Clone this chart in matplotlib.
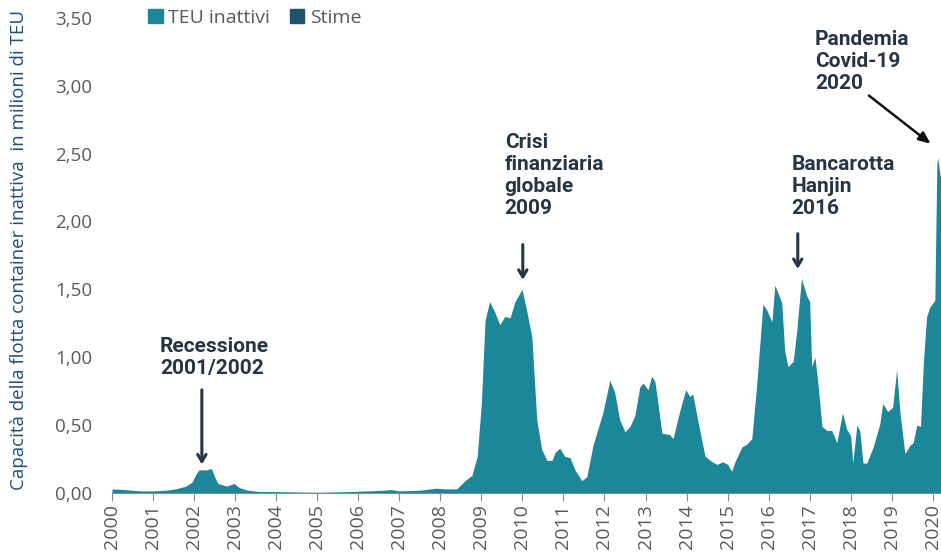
import matplotlib
matplotlib.use("Agg")
import matplotlib.pyplot as plt
from matplotlib.patches import Patch

plt.rcParams['font.family'] = ['Open Sans', 'DejaVu Sans']

# dati (anno decimale, milioni di TEU inattivi)
anni = [
    2000.00, 2000.30, 2000.70, 2001.00, 2001.30, 2001.55, 2001.80, 2001.95,
    2002.05, 2002.12, 2002.30, 2002.42, 2002.50, 2002.58, 2002.80, 2002.97,
    2003.10, 2003.30, 2003.60, 2004.00, 2005.00, 2005.80, 2006.20, 2006.60,
    2006.80, 2007.00, 2007.50, 2007.90, 2008.10, 2008.40, 2008.60, 2008.77,
    2008.90, 2009.00, 2009.09, 2009.20, 2009.33, 2009.45, 2009.57, 2009.70,
    2009.82, 2009.99, 2010.10, 2010.23, 2010.35, 2010.47, 2010.60, 2010.72,
    2010.80, 2010.91, 2011.03, 2011.16, 2011.28, 2011.45, 2011.57, 2011.72,
    2011.96, 2012.13, 2012.25, 2012.37, 2012.50, 2012.62, 2012.74, 2012.86,
    2012.94, 2013.06, 2013.15, 2013.23, 2013.40, 2013.59, 2013.67, 2013.84,
    2013.98, 2014.08, 2014.15, 2014.27, 2014.45, 2014.62, 2014.74, 2014.88,
    2015.00, 2015.10, 2015.18, 2015.35, 2015.47, 2015.59, 2015.71, 2015.86,
    2015.95, 2016.08, 2016.15, 2016.22, 2016.32, 2016.39, 2016.47, 2016.60,
    2016.68, 2016.80, 2016.93, 2017.00, 2017.05, 2017.13, 2017.20, 2017.30,
    2017.42, 2017.54, 2017.66, 2017.80, 2017.90, 2018.00, 2018.05, 2018.15,
    2018.22, 2018.30, 2018.39, 2018.55, 2018.71, 2018.78, 2018.90, 2019.02,
    2019.12, 2019.20, 2019.32, 2019.44, 2019.52, 2019.61, 2019.70, 2019.77,
    2019.85, 2019.93, 2020.05, 2020.10, 2020.12, 2020.17, 2020.20,
]
teu_inattivi = [
    0.03, 0.025, 0.015, 0.015, 0.02, 0.03, 0.05, 0.08,
    0.14, 0.17, 0.17, 0.18, 0.12, 0.07, 0.05, 0.07,
    0.04, 0.02, 0.01, 0.01, 0.005, 0.01, 0.015, 0.02,
    0.025, 0.015, 0.02, 0.035, 0.03, 0.03, 0.09, 0.13,
    0.27, 0.66, 1.27, 1.41, 1.33, 1.24, 1.30, 1.29,
    1.41, 1.50, 1.35, 1.15, 0.54, 0.32, 0.24, 0.24,
    0.30, 0.33, 0.27, 0.26, 0.17, 0.09, 0.12, 0.35,
    0.59, 0.83, 0.74, 0.54, 0.45, 0.49, 0.57, 0.78,
    0.81, 0.76, 0.86, 0.82, 0.44, 0.43, 0.40, 0.61,
    0.76, 0.71, 0.73, 0.54, 0.27, 0.23, 0.21, 0.23,
    0.21, 0.16, 0.23, 0.34, 0.36, 0.40, 0.80, 1.39,
    1.35, 1.26, 1.53, 1.48, 1.40, 1.05, 0.93, 0.97,
    1.18, 1.58, 1.45, 1.41, 0.93, 1.00, 0.81, 0.49,
    0.46, 0.46, 0.37, 0.59, 0.47, 0.42, 0.22, 0.50,
    0.46, 0.22, 0.22, 0.34, 0.51, 0.66, 0.60, 0.63,
    0.91, 0.59, 0.29, 0.35, 0.37, 0.50, 0.49, 0.96,
    1.30, 1.37, 1.42, 2.43, 2.47, 2.36, 2.30,
]

anni_tick = list(range(2000, 2021))
y_tick = [0, 0.5, 1.0, 1.5, 2.0, 2.5, 3.0, 3.5]
y_tick_labels = ['0,00', '0,50', '1,00', '1,50', '2,00', '2,50', '3,00', '3,50']

col_teu = '#1b8798'
col_stime = '#21506b'
col_testo = '#263545'
col_assi = '#5a5a5a'

fig = plt.figure(figsize=(9.41, 5.57), dpi=100)
ax = fig.add_axes([0.119, 0.115, 0.881, 0.853])

ax.fill_between(anni, teu_inattivi, 0, color=col_teu, linewidth=0)

ax.set_xlim(2000, 2020.2)
ax.set_ylim(0, 3.5)
ax.set_xticks(anni_tick)
ax.set_xticklabels([str(a) for a in anni_tick], rotation=90, fontsize=14, color=col_assi)
ax.set_yticks(y_tick)
ax.set_yticklabels(y_tick_labels, fontsize=13.5, color=col_assi)
ax.tick_params(axis='y', length=0, pad=14)
ax.tick_params(axis='x', length=6, color='#8a8a8a', pad=2)
for s in ['top', 'right', 'left']:
    ax.spines[s].set_visible(False)
ax.spines['bottom'].set_color('#8a8a8a')

fig.text(0.02, 1 - 250 / 557, 'Capacità della flotta container inattiva  in milioni di TEU',
         rotation=90, ha='center', va='center', fontsize=13.5, color='#1f4e79')

# legenda in alto
handles = [Patch(color=col_teu, label='TEU inattivi'), Patch(color=col_stime, label='Stime')]
leg = fig.legend(handles=handles, loc='center left', bbox_to_anchor=(148 / 941, 1 - 18 / 557),
                 ncol=2, frameon=False, fontsize=14, handlelength=0.75, handleheight=0.75,
                 handletextpad=0.3, columnspacing=1.0, borderaxespad=0, borderpad=0)
for t in leg.get_texts():
    t.set_color(col_assi)

# annotazioni sugli eventi
fam_ann = ['Roboto', 'DejaVu Sans']
note = [
    ('Recessione\n2001/2002', 2001.17, 1.15, 2002.19, 0.78, 0.19),
    ('Crisi\nfinanziaria\nglobale\n2009', 2009.57, 2.65, 2010.01, 1.85, 1.55),
    ('Bancarotta\nHanjin\n2016', 2016.56, 2.49, 2016.71, 1.93, 1.63),
]
for testo, tx, ty, ax_x, y0, y1 in note:
    ax.text(tx, ty, testo, ha='left', va='top', fontsize=15, fontweight='bold',
            color=col_testo, family=fam_ann, linespacing=1.2)
    ax.annotate('', xy=(ax_x, y1), xytext=(ax_x, y0),
                arrowprops=dict(arrowstyle='->,head_length=0.5,head_width=0.3',
                                color=col_testo, lw=2.2))

ax.text(2017.13, 3.41, 'Pandemia\nCovid-19\n2020', ha='left', va='top', fontsize=15,
        fontweight='bold', color=col_testo, family=fam_ann, linespacing=1.2)
ax.annotate('', xy=(2020.0, 2.56), xytext=(2018.39, 2.94),
            arrowprops=dict(arrowstyle='-|>,head_length=0.7,head_width=0.3',
                            color='#111111', lw=1.8))

fig.savefig('out.png', dpi=100)
